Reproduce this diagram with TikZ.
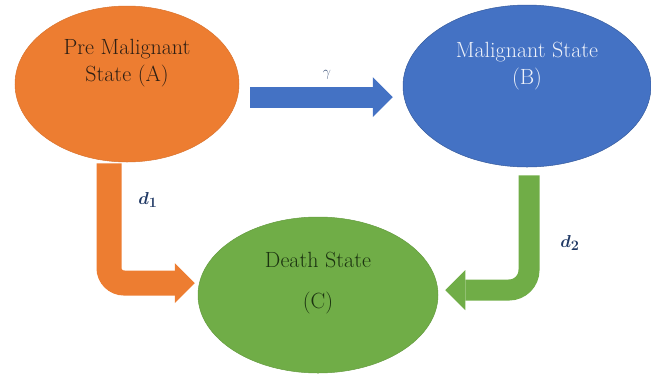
\documentclass[tikz,border=0pt]{standalone}
\usepackage{amsmath,amssymb}
\usepackage{bm}
\usepackage{tikz}
\usetikzlibrary{arrows.meta,calc,positioning,shapes.geometric}
\definecolor{naranja}{HTML}{ED7D31}
\definecolor{azul}{HTML}{4472C4}
\definecolor{verde}{HTML}{70AD47}
\definecolor{tinta}{HTML}{2E1F14}
\definecolor{tintaverde}{HTML}{1B3310}
\definecolor{clara}{HTML}{EEF2FA}
\definecolor{azulprof}{HTML}{1F3864}
\tikzset{
  estado/.style={ellipse,inner sep=0pt,line width=0.5pt},
  estadoA/.style={estado,fill=naranja,draw=naranja!92!black,minimum width=224pt,minimum height=156pt},
  estadoB/.style={estado,fill=azul,draw=azul!80!black,minimum width=248pt,minimum height=162pt},
  estadoC/.style={estado,fill=verde,draw=verde!90!black,minimum width=240pt,minimum height=156pt},
  texto/.style={align=center,inner sep=0pt,font=\fontsize{22}{27}\selectfont},
  flecha/.style={line width=21pt,rounded corners=18pt,-{Triangle[width=40pt,length=20pt,line width=0pt]}},
  tasa/.style={inner sep=0pt,text=azulprof,font=\fontsize{19}{22}\selectfont},
  gama/.style={inner sep=0pt,text=azulprof!80,font=\fontsize{14}{16}\selectfont},
}

\begin{document}
\begin{tikzpicture}[x=1pt,y=-1pt]
\useasboundingbox (0,0) rectangle (651,381);
\node[estadoA] (A) at (127,84) {};
\node[estadoB] (B) at (527,86) {};
\node[estadoC] (C) at (318,295) {};
\node[texto,text=tinta] (tA) at ([yshift=21pt]A.center) {Pre Malignant\\State (A)};
\node[texto,text=clara] (tB) at ([yshift=20pt]B.center) {Malignant State\\(B)};
\node[texto,text=tintaverde] (tC) at ([yshift=12pt]C.center) {Death State\\[14pt](C)};
\coordinate (sA) at ([xshift=-18pt,yshift=-1pt]A.south);
\coordinate (eA) at ([xshift=11pt,yshift=-13pt]A.east);
\coordinate (sB) at ([xshift=2pt,yshift=-8pt]B.south);
\coordinate (wB) at ([xshift=-10pt,yshift=-11pt]B.west);
\coordinate (wC) at ([xshift=-3pt,yshift=12pt]C.west);
\coordinate (oC) at ([xshift=7pt,yshift=5pt]C.east);
\draw[flecha,azul] (eA) -- (wB);
\draw[flecha,naranja,line width=25pt,rounded corners=15pt] (sA) |- (wC);
\draw[flecha,verde,rounded corners=20pt] (sB) |- (oC);
\node[gama] (g) at (327,75) {$\gamma$};
\node[tasa] (d1) at (148,200) {$\bm{d_1}$};
\node[tasa] (d2) at (570,243) {$\bm{d_2}$};
\end{tikzpicture}
\end{document}
